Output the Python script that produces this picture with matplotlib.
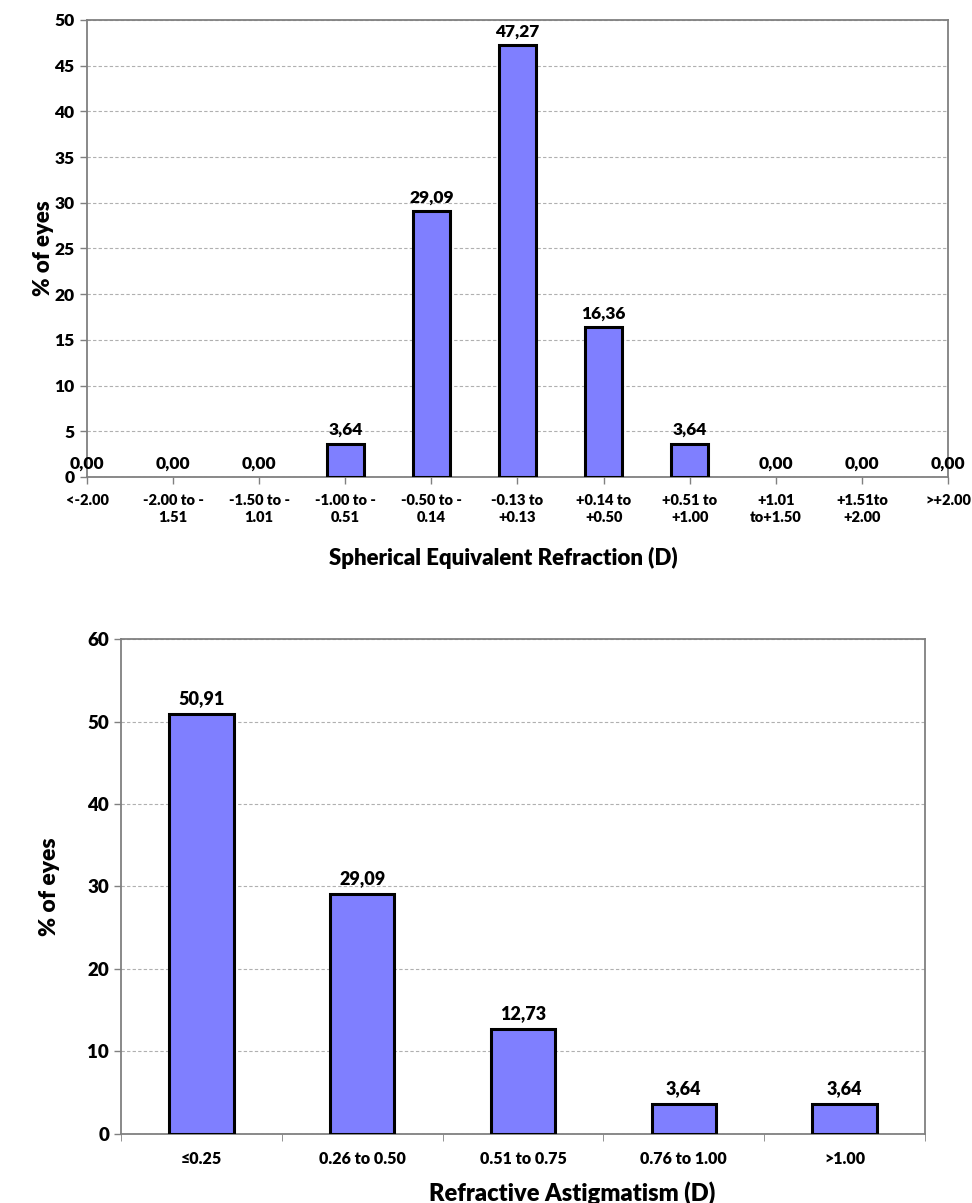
import matplotlib
matplotlib.use("Agg")
import matplotlib.pyplot as plt
import numpy as np

plt.rcParams["font.family"] = ["Lato", "DejaVu Sans"]
W = "heavy"
plt.rcParams["font.weight"] = W

# top chart: spherical equivalent refraction
se_labels = ["<-2.00", "-2.00 to -\n1.51", "-1.50 to -\n1.01", "-1.00 to -\n0.51",
             "-0.50 to -\n0.14", "-0.13 to\n+0.13", "+0.14 to\n+0.50", "+0.51 to\n+1.00",
             "+1.01\nto+1.50", "+1.51to\n+2.00", ">+2.00"]
se_values = [0.00, 0.00, 0.00, 3.64, 29.09, 47.27, 16.36, 3.64, 0.00, 0.00, 0.00]

# bottom chart: refractive astigmatism
ast_labels = ["≤0.25", "0.26 to 0.50", "0.51 to 0.75", "0.76 to 1.00", ">1.00"]
ast_values = [50.91, 29.09, 12.73, 3.64, 3.64]

BAR_COLOR = "#7f7fff"
SPINE = "#808080"


def style_axes(ax):
    for s in ax.spines.values():
        s.set_color(SPINE)
        s.set_linewidth(1.3)
    ax.yaxis.grid(True, linestyle=(0, (3, 2)), color="#b0b0b0", linewidth=0.8)
    ax.set_axisbelow(True)
    ax.tick_params(axis="both", colors=SPINE, length=5, width=1)


def fmt(v):
    return f"{v:.2f}".replace(".", ",")


fig = plt.figure(figsize=(9.72, 12.03), dpi=100)

# ---- top
ax1 = fig.add_axes([0.0895, 0.6035, 0.8858, 0.3799])
x1 = np.arange(len(se_values))
# zero bars get no outline so nothing shows on the baseline
lw1 = [2.2 if v > 0 else 0 for v in se_values]
ax1.bar(x1, se_values, width=0.43, color=BAR_COLOR, edgecolor="black", linewidth=lw1, zorder=3)
ax1.set_xlim(0, len(se_values) - 1)
ax1.set_ylim(0, 50)
ax1.set_yticks(np.arange(0, 51, 5))
ax1.set_xticks(x1)
ax1.set_xticklabels(se_labels, fontsize=10.5, fontweight=W, linespacing=1.4)
style_axes(ax1)
for lbl in ax1.get_xticklabels() + ax1.get_yticklabels():
    lbl.set_color("black")
for lbl in ax1.get_yticklabels():
    lbl.set_fontsize(12.5)
ax1.tick_params(axis="x", pad=7)
ax1.tick_params(axis="y", pad=4)
for xi, v in zip(x1, se_values):
    ax1.annotate(fmt(v), (xi, v), xytext=(0, 4), textcoords="offset points", ha="center",
                 va="bottom", fontsize=12.5, fontweight=W, clip_on=False)
ax1.set_xlabel("Spherical Equivalent Refraction (D)", fontsize=16, fontweight=W)
ax1.xaxis.set_label_coords(0.484, -0.152)
ax1.set_ylabel("% of eyes", fontsize=16, fontweight=W, labelpad=0)

# ---- bottom
ax2 = fig.add_axes([0.1245, 0.0574, 0.8271, 0.4114])
x2 = np.arange(len(ast_values))
ax2.bar(x2, ast_values, width=0.40, color=BAR_COLOR, edgecolor="black", linewidth=2.2, zorder=3)
ax2.set_xlim(-0.5, len(ast_values) - 0.5)
ax2.set_ylim(0, 60)
ax2.set_yticks(np.arange(0, 61, 10))
ax2.set_xticks(x2)
ax2.set_xticklabels(ast_labels, fontsize=11.5, fontweight=W)
ax2.set_xticks(np.arange(-0.5, len(ast_values)), minor=True)
style_axes(ax2)
ax2.tick_params(axis="x", which="major", length=0, pad=12)
ax2.tick_params(axis="x", which="minor", length=5, color=SPINE)
for lbl in ax2.get_xticklabels() + ax2.get_yticklabels():
    lbl.set_color("black")
for lbl in ax2.get_yticklabels():
    lbl.set_fontsize(13.5)
for xi, v in zip(x2, ast_values):
    ax2.annotate(fmt(v), (xi, v), xytext=(0, 5), textcoords="offset points", ha="center",
                 va="bottom", fontsize=13, fontweight=W)
ax2.set_xlabel("Refractive Astigmatism (D)", fontsize=17, fontweight=W)
ax2.xaxis.set_label_coords(0.561, -0.096)
ax2.set_ylabel("% of eyes", fontsize=16.5, fontweight=W, labelpad=20)

fig.savefig("out.png", dpi=100)
